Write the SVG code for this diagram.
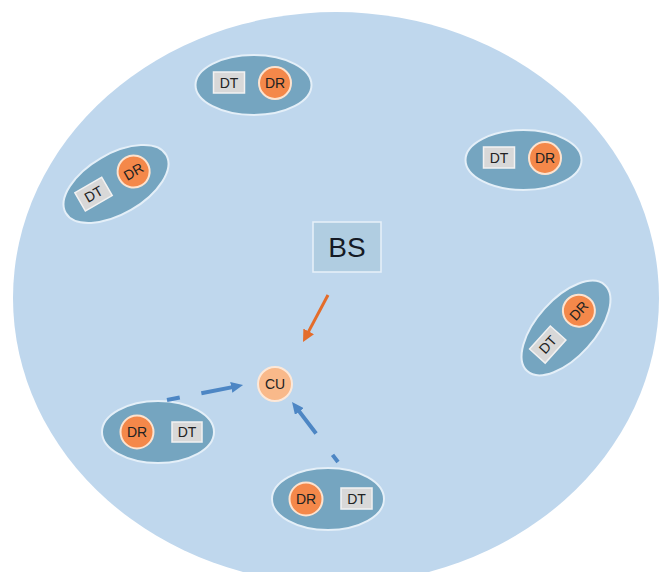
<svg xmlns="http://www.w3.org/2000/svg" width="662" height="572" viewBox="0 0 662 572">
<style>
.pair{fill:#75a5c0;stroke:#e4eff8;stroke-width:2}
.dt{fill:#d8d8d8;stroke:#f2f2f2;stroke-width:1.5}
.dr{fill:#f4884a;stroke:#fde3cf;stroke-width:2}
.t{font-family:"Liberation Sans",Arial,sans-serif;font-size:14px;fill:#222;text-anchor:middle;dominant-baseline:central}
.blue{fill:none;stroke:#4d86c4;stroke-width:4}
</style>
<defs>
<marker id="ab" markerUnits="userSpaceOnUse" markerWidth="13" markerHeight="11" refX="4" refY="5.5" orient="auto"><path d="M0,0 L12,5.5 L0,11 z" fill="#4d86c4"/></marker>
<marker id="ao" markerUnits="userSpaceOnUse" markerWidth="13" markerHeight="12" refX="4" refY="6" orient="auto"><path d="M0,0 L12,6 L0,12 z" fill="#e46c2a"/></marker>
</defs>
<rect width="662" height="572" fill="#ffffff"/>
<ellipse id="cell" cx="336" cy="298" rx="323" ry="286" fill="#bfd7ed"/>
<g id="bs">
<rect x="313" y="222" width="68" height="50" fill="#b0cde1" stroke="#e8f1f9" stroke-width="1.5"/>
<text x="347" y="247" class="t" style="font-size:28px;fill:#151a25">BS</text>
</g>
<g id="cu">
<circle cx="275" cy="384" r="17" fill="#f9b98a" stroke="#fde8d8" stroke-width="2"/>
<text x="275" y="384" class="t">CU</text>
</g>
<g id="pair1" transform="translate(253.5,85)">
<ellipse class="pair" rx="58" ry="30"/>
<rect class="dt" x="-40" y="-13" width="31" height="21"/>
<text class="t" x="-24.5" y="-2.5">DT</text>
<circle class="dr" cx="21.5" cy="-2" r="16"/>
<text class="t" x="21.5" y="-2">DR</text>
</g>
<g id="pair2" transform="translate(116,184) rotate(-30)">
<ellipse class="pair" rx="58" ry="30"/>
<rect class="dt" x="-40" y="-13" width="31" height="21"/>
<text class="t" x="-24.5" y="-2.5">DT</text>
<circle class="dr" cx="21.5" cy="-2" r="16"/>
<text class="t" x="21.5" y="-2">DR</text>
</g>
<g id="pair3" transform="translate(523.5,160)">
<ellipse class="pair" rx="58" ry="30"/>
<rect class="dt" x="-40" y="-13" width="31" height="21"/>
<text class="t" x="-24.5" y="-2.5">DT</text>
<circle class="dr" cx="21.5" cy="-2" r="16"/>
<text class="t" x="21.5" y="-2">DR</text>
</g>
<g id="pair4" transform="translate(566,328) rotate(-48)">
<ellipse class="pair" rx="58" ry="29"/>
<rect class="dt" x="-40" y="-13" width="31" height="21"/>
<text class="t" x="-24.5" y="-2.5">DT</text>
<circle class="dr" cx="21.5" cy="-2" r="16"/>
<text class="t" x="21.5" y="-2">DR</text>
</g>
<g id="pair5" transform="translate(158,432)">
<ellipse class="pair" rx="56" ry="31"/>
<circle class="dr" cx="-21" cy="0" r="16.5"/>
<text class="t" x="-21" y="0">DR</text>
<rect class="dt" x="14" y="-10" width="30" height="20"/>
<text class="t" x="29" y="0">DT</text>
</g>
<g id="pair6" transform="translate(328,499)">
<ellipse class="pair" rx="56" ry="31"/>
<circle class="dr" cx="-22" cy="0" r="16.5"/>
<text class="t" x="-22" y="0">DR</text>
<rect class="dt" x="13" y="-11" width="31" height="21"/>
<text class="t" x="28.5" y="-0.5">DT</text>
</g>
<g id="connectors">
<path d="M328,295 L306.8,334.9" fill="none" stroke="#e46c2a" stroke-width="3" marker-end="url(#ao)"/>
<path d="M167,400 L235.2,386.6" class="blue" stroke-dasharray="13 22 60" marker-end="url(#ab)"/>
<path d="M338,462 L296.9,408.4" class="blue" stroke-dasharray="9 27 60" marker-end="url(#ab)"/>
</g>
</svg>
